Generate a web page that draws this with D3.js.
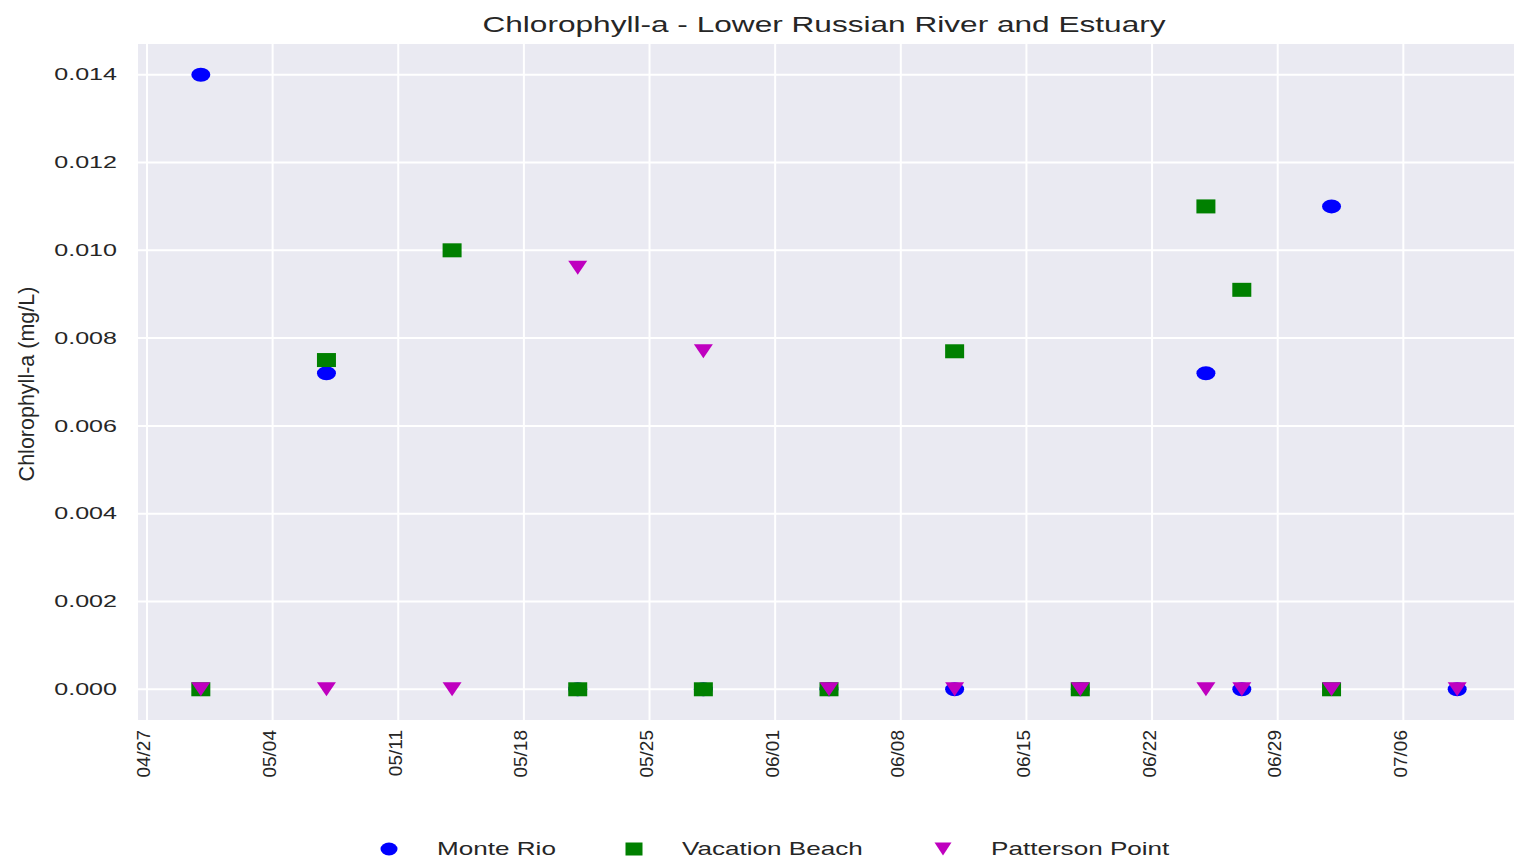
<!DOCTYPE html>
<html lang="en">
<head>
<meta charset="UTF-8">
<title>Chlorophyll-a - Lower Russian River and Estuary</title>
<script src="https://d3js.org/d3.v7.min.js"></script>
<style>
    body, html { margin: 0; padding: 0; overflow: hidden; background: #fff; }
    text { font-family: "Liberation Sans", Arial, sans-serif; fill: #262626; }
</style>
</head>
<body>
<svg id="chart" width="1514" height="867"></svg>
<script>
// sample dates (mm/dd) and the three stations
const dates = ["04/30", "05/07", "05/14", "05/21", "05/28", "06/04", "06/11", "06/18", "06/25", "06/27", "07/02", "07/09"];
const monteRio      = [0.014, 0.0072, null, 0, 0, 0, 0, 0, 0.0072, 0, 0.011, 0];
const vacationBeach = [0, 0.0075, 0.010, 0, 0, 0, 0.0077, 0, 0.011, 0.0091, 0, null];
const pattersonPoint = [0, 0, 0, 0.0096, 0.0077, 0, 0, 0, 0, 0, 0, 0];
const xTickLabels = ["04/27", "05/04", "05/11", "05/18", "05/25", "06/01", "06/08", "06/15", "06/22", "06/29", "07/06"];
const yTicks = [0, 0.002, 0.004, 0.006, 0.008, 0.010, 0.012, 0.014];

const parse = d3.timeParse("%Y/%m/%d");
const toDate = s => parse("2018/" + s);

const series = [
    { name: "Monte Rio", values: monteRio, color: "#0000ff", shape: "circle" },
    { name: "Vacation Beach", values: vacationBeach, color: "#008000", shape: "square" },
    { name: "Patterson Point", values: pattersonPoint, color: "#bf00bf", shape: "triangle" }
];

const svg = d3.select("#chart");
const W = 1514, H = 867;
const plot = { left: 138, right: 1520, top: 44, bottom: 720 }; // right side runs off the image
const k = 1.45; // horizontal stretch of the source image

// matplotlib-like 5% padding
const dExt = d3.extent(dates.map(toDate));
const dPad = (dExt[1] - dExt[0]) * 0.05;
const x = d3.scaleTime()
    .domain([new Date(+dExt[0] - dPad), new Date(+dExt[1] + dPad)])
    .range([plot.left, plot.right]);
const yMax = 0.014, yPad = yMax * 0.05;
const y = d3.scaleLinear()
    .domain([-yPad, yMax + yPad])
    .range([plot.bottom, plot.top]);

// plot background
svg.append("rect")
    .attr("x", plot.left).attr("y", plot.top)
    .attr("width", plot.right - plot.left)
    .attr("height", plot.bottom - plot.top)
    .attr("fill", "#eaeaf2");

// grid
const grid = svg.append("g");
grid.selectAll(".vg").data(xTickLabels).enter().append("line")
    .attr("x1", d => x(toDate(d))).attr("x2", d => x(toDate(d)))
    .attr("y1", plot.top).attr("y2", plot.bottom)
    .attr("stroke", "#fff").attr("stroke-width", 2);
grid.selectAll(".hg").data(yTicks).enter().append("line")
    .attr("x1", plot.left).attr("x2", plot.right)
    .attr("y1", d => y(d)).attr("y2", d => y(d))
    .attr("stroke", "#fff").attr("stroke-width", 2);

// y tick labels
svg.append("g").selectAll("text").data(yTicks).enter().append("text")
    .attr("transform", d => `translate(117,${y(d)}) scale(${k},1)`)
    .attr("text-anchor", "end")
    .attr("dominant-baseline", "central")
    .attr("font-size", 17.3)
    .attr("fill", "#333")
    .text(d => d3.format(".3f")(d));

// x tick labels, rotated
svg.append("g").selectAll("text").data(xTickLabels).enter().append("text")
    .attr("transform", d => `translate(${x(toDate(d)) - 3},730) rotate(-90)`)
    .attr("text-anchor", "end")
    .attr("dominant-baseline", "central")
    .attr("font-size", 19)
    .attr("fill", "#333")
    .text(d => d);

// axis label + title
svg.append("text")
    .attr("transform", `translate(27,${(plot.top + plot.bottom) / 2 + 2}) rotate(-90)`)
    .attr("text-anchor", "middle")
    .attr("dominant-baseline", "central")
    .attr("font-size", 21.5)
    .text("Chlorophyll-a (mg/L)");

svg.append("text")
    .attr("transform", `translate(824,24) scale(${k},1)`)
    .attr("text-anchor", "middle")
    .attr("dominant-baseline", "central")
    .attr("font-size", 21.8)
    .text("Chlorophyll-a - Lower Russian River and Estuary");

// marker shapes, w x h
function marker(sel, shape, w, h) {
    if (shape === "circle") {
        sel.append("ellipse").attr("rx", w / 2).attr("ry", h / 2);
    } else if (shape === "square") {
        sel.append("rect").attr("x", -w / 2).attr("y", -h / 2).attr("width", w).attr("height", h);
    } else {
        sel.append("path").attr("d", `M${-w / 2},${-h / 2}L${w / 2},${-h / 2}L0,${h / 2}Z`);
    }
}

// points
series.forEach(s => {
    const pts = dates.map((d, i) => ({ date: toDate(d), v: s.values[i] })).filter(p => p.v !== null);
    const g = svg.append("g").attr("fill", s.color);
    g.selectAll("g").data(pts).enter().append("g")
        .attr("transform", p => `translate(${x(p.date)},${y(p.v)})`)
        .each(function () { marker(d3.select(this), s.shape, 19, 14); });
});

// legend
const legX = [389, 634, 943];
series.forEach((s, i) => {
    const lg = svg.append("g").attr("transform", `translate(${legX[i]},849)`);
    const m = lg.append("g").attr("fill", s.color);
    marker(m, s.shape, 17, 13);
    lg.append("text")
        .attr("transform", `translate(48,0) scale(${k},1)`)
        .attr("dominant-baseline", "central")
        .attr("font-size", 18)
        .attr("fill", "#333")
        .text(s.name);
});
</script>
</body>
</html>
